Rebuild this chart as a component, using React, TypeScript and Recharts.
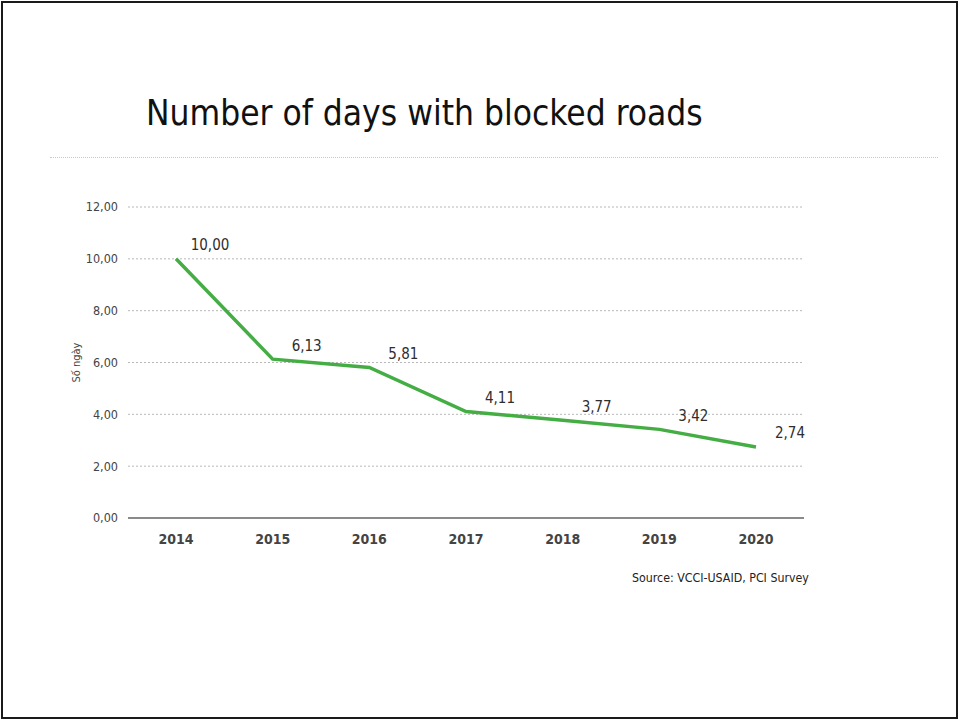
import { LineChart, Line, XAxis, YAxis, CartesianGrid, LabelList } from "recharts";

const years = ["2014", "2015", "2016", "2017", "2018", "2019", "2020"];
const blockedDays = [10.0, 6.13, 5.81, 4.11, 3.77, 3.42, 2.74];
const yTicks = [0, 2, 4, 6, 8, 10, 12];

const data = years.map((year, i) => ({ year, days: blockedDays[i] }));

const FONT = "'Liberation Sans Narrow', 'DejaVu Sans Condensed', 'Noto Sans', sans-serif";
const fmt = (v: number) => v.toFixed(2).replace(".", ",");

function ValueLabel(props: any) {
  const { x, y, value } = props;
  return (
    <text
      x={x + 34}
      y={y - 13}
      textAnchor="middle"
      dominantBaseline="middle"
      fontSize={15}
      fontFamily={FONT}
      fill="#2e2e2e"
    >
      {fmt(value)}
    </text>
  );
}

export default function App() {
  return (
    <div style={{ position: "fixed", left: 0, top: 0, width: 960, height: 721, background: "#fff", fontFamily: FONT }}>
      <div
        style={{
          position: "absolute",
          left: 1,
          top: 1,
          width: 957,
          height: 718,
          border: "2px solid #1a1a1a",
          boxSizing: "border-box",
        }}
      />
      <div
        style={{
          position: "absolute",
          left: 146,
          top: 93,
          fontSize: 35,
          lineHeight: "40px",
          color: "#111",
          whiteSpace: "nowrap",
        }}
      >
        Number of days with blocked roads
      </div>
      <div
        style={{
          position: "absolute",
          left: 50,
          top: 157,
          width: 888,
          borderTop: "1px dotted #c8c8c8",
        }}
      />
      <div style={{ position: "absolute", left: 0, top: 0 }}>
        <LineChart
          width={960}
          height={600}
          data={data}
          margin={{ top: 207, right: 156, bottom: 52, left: 68 }}
        >
          <CartesianGrid vertical={false} stroke="#b8b8b8" strokeDasharray="2 2" />
          <XAxis
            dataKey="year"
            padding={{ left: 48, right: 48 }}
            axisLine={{ stroke: "#8a8a8a", strokeWidth: 2 }}
            tickLine={false}
            tickMargin={10}
            height={30}
            tick={{ fontSize: 14, fill: "#444", fontFamily: FONT, fontWeight: 700 }}
          />
          <YAxis
            domain={[0, 12]}
            ticks={yTicks}
            width={60}
            axisLine={false}
            tickLine={false}
            tickSize={0}
            tickMargin={10}
            tickFormatter={fmt}
            tick={{ fontSize: 12.5, fill: "#444", fontFamily: FONT }}
            label={{
              value: "Số ngày",
              angle: -90,
              position: "insideLeft",
              offset: 8,
              style: { textAnchor: "middle", fontSize: 11, fill: "#444", fontFamily: FONT },
            }}
          />
          <Line
            type="linear"
            dataKey="days"
            stroke="#44ad44"
            strokeWidth={3.5}
            dot={false}
            isAnimationActive={false}
          >
            <LabelList dataKey="days" content={ValueLabel} />
          </Line>
        </LineChart>
      </div>
      <div
        style={{
          position: "absolute",
          left: 632,
          top: 569,
          fontSize: 12.3,
          lineHeight: "18px",
          color: "#222",
          whiteSpace: "nowrap",
        }}
      >
        Source: VCCI-USAID, PCI Survey
      </div>
    </div>
  );
}
